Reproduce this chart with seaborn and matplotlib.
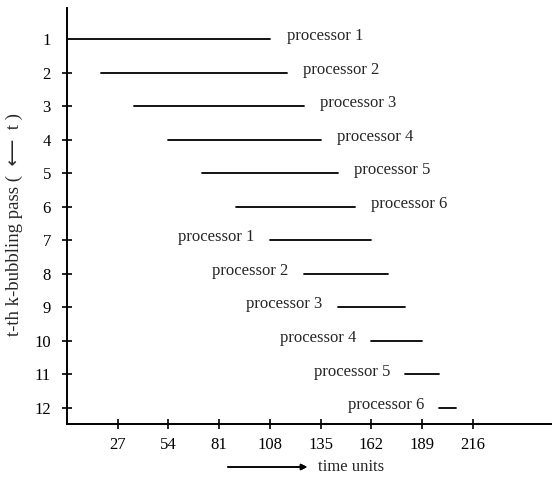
import pandas as pd
import seaborn as sns
import matplotlib.pyplot as plt

# k-bubbling passes: start / end time of each pass and the processor doing it
passes = list(range(1, 13))
start_time = [0, 18, 36, 54, 72, 90, 108, 126, 144, 162, 180, 198]
end_time = [108, 117, 126, 135, 144, 153, 162, 171, 180, 189, 198, 207]
processor = ['processor 1', 'processor 2', 'processor 3', 'processor 4', 'processor 5', 'processor 6',
             'processor 1', 'processor 2', 'processor 3', 'processor 4', 'processor 5', 'processor 6']
x_ticks = [27, 54, 81, 108, 135, 162, 189, 216]

df = pd.DataFrame({
    'pass': passes * 2,
    'time': start_time + end_time,
})

sns.set_theme(style='ticks')
plt.rcParams['font.family'] = ['Liberation Serif', 'DejaVu Sans']

fig = plt.figure(figsize=(5.52, 4.78), dpi=100)
ax = fig.add_axes([0.121, 0.113, 0.879, 0.870])

sns.lineplot(data=df, x='time', y='pass', units='pass', estimator=None,
             color='black', linewidth=1.3, ax=ax, legend=False)

# labels: right of the line for the first six passes, left of it afterwards
for p, s, e, name in zip(passes, start_time, end_time, processor):
    if p <= 6:
        ax.annotate(name, (e, p), xytext=(12, 2), textcoords='offset points',
                    ha='left', va='center', fontsize=12)
    else:
        ax.annotate(name, (s, p), xytext=(-11, 2), textcoords='offset points',
                    ha='right', va='center', fontsize=12)

ax.set_xlim(0, 258)
ax.set_ylim(12.48, 0.08)
ax.set_xticks(x_ticks)
ax.set_yticks(passes)
ax.tick_params(direction='inout', length=7, width=1.2, labelsize=12, colors='black')
ax.tick_params(axis='y', pad=8)
ax.tick_params(axis='x', pad=6)
ax.yaxis.get_major_ticks()[0].tick1line.set_visible(False)

for side in ['top', 'right']:
    ax.spines[side].set_visible(False)
for side in ['left', 'bottom']:
    ax.spines[side].set_linewidth(1.4)
    ax.spines[side].set_color('black')

ax.set_xlabel('')
ax.set_ylabel('t-th k-bubbling pass (  \u27f5  t )', fontsize=13.5)
ax.yaxis.set_label_coords(-0.09, 0.48)

# arrow + "time units" under the x axis
fig.text(318 / 552, 1 - 467 / 478, 'time units', fontsize=12, ha='left', va='center')
fig.add_artist(plt.annotate('', xy=(310 / 552, 1 - 467 / 478), xytext=(225 / 552, 1 - 467 / 478),
                            xycoords='figure fraction', textcoords='figure fraction',
                            arrowprops=dict(arrowstyle='-|>', color='black', lw=1.1,
                                            mutation_scale=9)))

fig.savefig('out.png', dpi=100)
